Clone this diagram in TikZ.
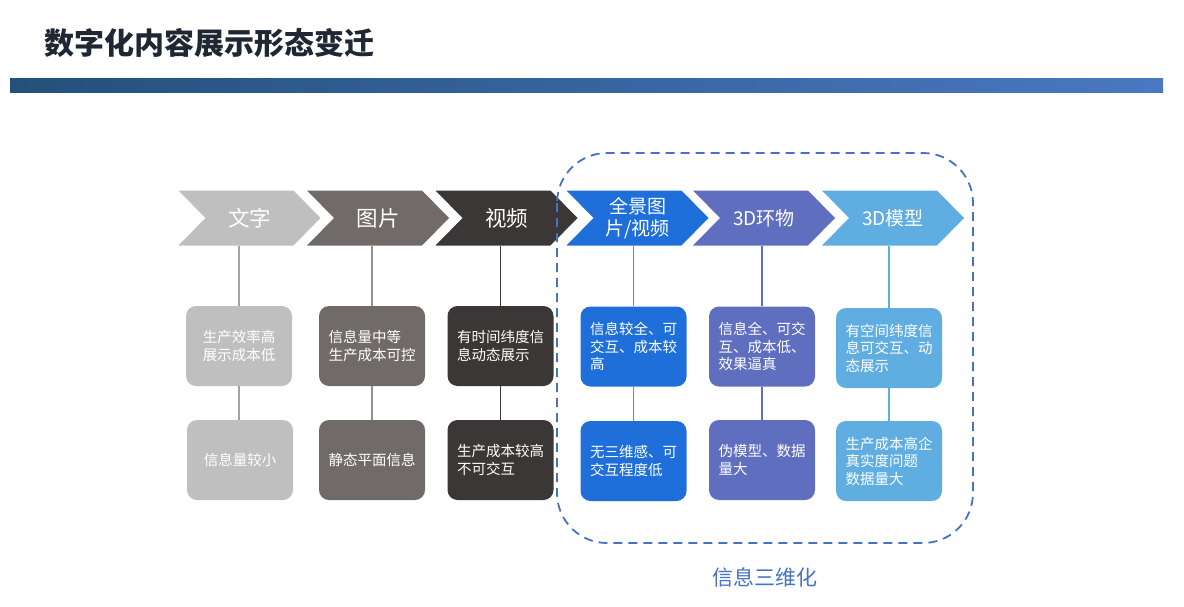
\documentclass[tikz,border=0pt]{standalone}
\usepackage{fontspec}
\setmainfont{Noto Sans CJK SC}
\usetikzlibrary{shapes.symbols}

\definecolor{wordgray}{HTML}{BFBFBF}
\definecolor{picgray}{HTML}{706B69}
\definecolor{videodark}{HTML}{3A3736}
\definecolor{panoblue}{HTML}{1F6FDB}
\definecolor{spinblue}{HTML}{5F6EBE}
\definecolor{modelblue}{HTML}{60ADE1}
\definecolor{frameblue}{HTML}{4472C4}
\definecolor{titleink}{HTML}{1E2733}
\definecolor{barleft}{HTML}{24507B}
\definecolor{barright}{HTML}{4A78C2}

\begin{document}
\begin{tikzpicture}[x=1pt, y=-1pt,
  stage/.style={signal, signal to=east, signal from=west, signal pointer angle=91,
    fill=#1, text=white, minimum height=55pt, minimum width=142pt, inner sep=0pt,
    font=\fontsize{21.5}{23}\selectfont},
  note/.style={rounded corners=10pt, fill=#1, text=white, minimum width=106pt,
    minimum height=80pt, inner sep=2pt, align=left,
    font=\fontsize{14.5}{17.5}\selectfont},
  link/.style={draw=#1, line width=1.5pt}]
  \useasboundingbox (0,0) rectangle (1184,606);

  % title and bar
  \node[anchor=west, text=titleink, font=\fontsize{30}{32}\selectfont\bfseries] (title) at (41,43) {数字化内容展示形态变迁};
  \shade[left color=barleft, right color=barright] (10,78) rectangle (1163,92);

  % stages
  \node[stage=wordgray] (word) at (249.5,218) {文字};
  \node[stage=picgray] (image) at (378,218) {图片};
  \node[stage=videodark] (video) at (506.5,218) {视频};
  \node[stage=panoblue, align=center, font=\fontsize{19}{22}\selectfont] (pano) at (637.5,218) {全景图\\片/视频};
  \node[stage=spinblue, font=\fontsize{19}{21}\selectfont] (spin) at (764,218) {3D环物};
  \node[stage=modelblue, font=\fontsize{19}{21}\selectfont] (model) at (893,218) {3D模型};

  % good points
  \node[note=wordgray] (wordgood) at (239,346) {生产效率高\\展示成本低};
  \node[note=picgray] (imagegood) at (372,346) {信息量中等\\生产成本可控};
  \node[note=videodark] (videogood) at (500.5,346) {有时间纬度信\\息动态展示};
  \node[note=panoblue] (panogood) at (633.5,346.5) {信息较全、可\\交互、成本较\\高};
  \node[note=spinblue] (spingood) at (762,346.5) {信息全、可交\\互、成本低、\\效果逼真};
  \node[note=modelblue] (modelgood) at (889,348) {有空间纬度信\\息可交互、动\\态展示};

  % weak points
  \node[note=wordgray] (wordbad) at (240,460) {信息量较小};
  \node[note=picgray] (imagebad) at (372,460) {静态平面信息};
  \node[note=videodark] (videobad) at (500.5,460) {生产成本较高\\不可交互};
  \node[note=panoblue] (panobad) at (633.5,461) {无三维感、可\\交互程度低};
  \node[note=spinblue] (spinbad) at (762,460) {伪模型、数据\\量大};
  \node[note=modelblue] (modelbad) at (889,461) {生产成本高企\\真实度问题\\数据量大};

  \draw[link=wordgray!85!black] (wordgood.north) -- (wordgood.north |- word.south);
  \draw[link=wordgray!85!black] (wordgood.south) -- (wordgood.south |- wordbad.north);
  \draw[link=picgray!75] (imagegood.north) -- (imagegood.north |- image.south);
  \draw[link=picgray!75] (imagegood) -- (imagebad);
  \draw[link=videodark] (videogood.north) -- (videogood.north |- video.south);
  \draw[link=videodark] (videogood) -- (videobad);
  \draw[link=panoblue!80] (panogood.north) -- (panogood.north |- pano.south);
  \draw[link=panoblue!80] (panogood) -- (panobad);
  \draw[link=spinblue] (spingood.north) -- (spingood.north |- spin.south);
  \draw[link=spinblue] (spingood) -- (spinbad);
  \draw[link=modelblue] (modelgood.north) -- (modelgood.north |- model.south);
  \draw[link=modelblue] (modelgood) -- (modelbad);

  % 3D group
  \draw[frameblue, line width=1.8pt, dash pattern=on 9pt off 6pt, rounded corners=50pt] (557,153) rectangle (973,543);
  \node[text=frameblue, font=\fontsize{21}{23}\selectfont] (group) at (765,577) {信息三维化};
\end{tikzpicture}
\end{document}
